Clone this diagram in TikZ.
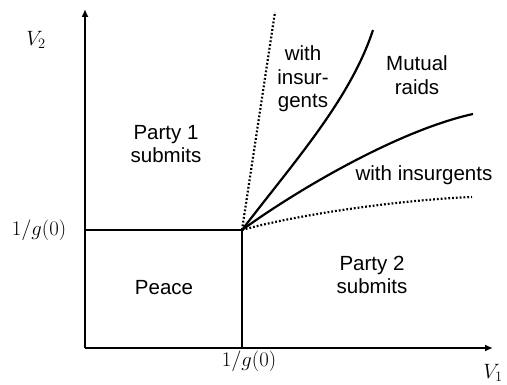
\documentclass[tikz,border=0pt]{standalone}
\usepackage[no-math]{fontspec}
\setmainfont{Liberation Sans}
\usetikzlibrary{arrows.meta}
\tikzset{
  axis/.style={line width=2.4pt,-{Latex[length=8pt,width=7pt]}},
  bound/.style={line width=2.2pt},
  dotline/.style={line width=2.2pt,dash pattern=on 1.8pt off 2pt},
  lbl/.style={font=\fontsize{20.5}{23.5}\selectfont,align=center,inner sep=0pt},
  mlbl/.style={font=\fontsize{17.28}{20}\selectfont,inner sep=0pt,scale=1.2}
}
\begin{document}
\begin{tikzpicture}[x=1pt,y=-1pt]
\useasboundingbox (0,0) rectangle (507,385);
\coordinate (O) at (85,348);
\coordinate (Ytip) at (85,9);
\coordinate (Xtip) at (493,348);
\coordinate (K) at (242,230);
\coordinate (L) at (85,230);
\coordinate (B) at (242,348);
\coordinate (E1) at (275,12);
\coordinate (E2) at (373,30);
\coordinate (E3) at (473,114);
\coordinate (E4) at (472,197);
% axes
\draw[axis] (O) -- (Ytip);
\draw[axis] (O) -- (Xtip);
% boundaries
\draw[bound] (L) -- (K) -- (B);
\draw[dotline] (K) -- (E1);
\draw[bound] (K) .. controls (293,163) and (350,100) .. (E2);
\draw[bound] (K) .. controls (300,188) and (400,130) .. (E3);
\draw[dotline] (K) .. controls (300,214) and (400,200) .. (E4);
% labels
\node[mlbl] (v2) at (36,40) {$V_2$};
\node[mlbl] (v1) at (493,373) {$V_1$};
\node[mlbl] (gy) at (39,230) {$1/g(0)$};
\node[mlbl] (gx) at (249,361) {$1/g(0)$};
\node[lbl] (p1) at (166,144) {Party 1\\submits};
\node[lbl] (pc) at (164,288) {Peace};
\node[lbl] (p2) at (372,275) {Party 2\\submits};
\node[lbl] (wi1) at (303,79) {with\\insur-\\gents};
\node[lbl] (mr) at (417,75) {Mutual\\raids};
\node[lbl,anchor=base] (wi2) at (424,181) {with insurgents};
\end{tikzpicture}
\end{document}
